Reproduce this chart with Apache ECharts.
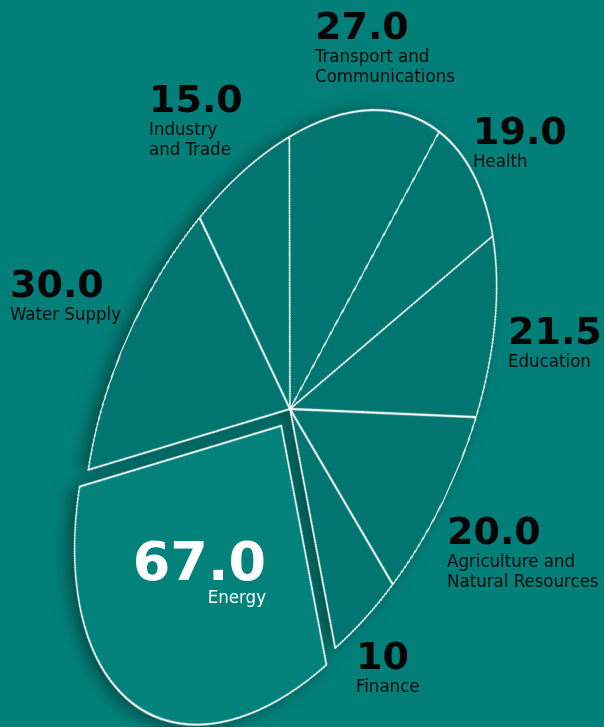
<!DOCTYPE html>
<html>
<head>
<meta charset="utf-8">
<title>Allocation by sector</title>
<script src="https://cdn.jsdelivr.net/npm/echarts@6/dist/echarts.min.js"></script>
<style>
  html, body { margin: 0; padding: 0; }
  body { width: 604px; height: 727px; background: #027f79; overflow: hidden; position: relative; }
  /* the pie is drawn as a circle, then tilted and squeezed into an ellipse */
  #pieShadow { position: absolute; left: 0; top: 0; width: 604px; height: 727px;
    filter: drop-shadow(-7px 2px 8px rgba(0, 45, 42, 0.6)); }
  #pie { position: absolute; width: 700px; height: 700px; left: -60px; top: 59px;
    transform-origin: 50% 50%; transform: rotate(23.7deg) scale(0.5604, 1); }
  #labels { position: absolute; left: 0; top: 0; width: 604px; height: 727px; }
</style>
</head>
<body>
<div id="pieShadow"><div id="pie"></div></div>
<div id="labels"></div>
<script>
// Sectors, clockwise from Energy
const sectors = [
  'Energy',
  'Water Supply',
  'Industry\nand Trade',
  'Transport and\nCommunications',
  'Health',
  'Education',
  'Agriculture and\nNatural Resources',
  'Finance'
];
const values = [67.0, 30.0, 15.0, 27.0, 19.0, 21.5, 20.0, 10];
const decimals = [1, 1, 1, 1, 1, 1, 1, 0];

// Label anchors: [x, baseline of the figure]
const labelAnchors = [
  [266, 585],
  [10, 300],
  [149, 115],
  [315, 42],
  [473, 147],
  [508, 347],
  [447, 547],
  [356, 672]
];

const SLICE = '#017670';
const HIGHLIGHT = '#03817b';

const pie = echarts.init(document.getElementById('pie'), null, { devicePixelRatio: 2 });
pie.setOption({
  animation: false,
  series: [{
    type: 'pie',
    radius: 317,
    center: ['50%', '50%'],
    startAngle: -39.3,
    clockwise: true,
    selectedMode: 'single',
    selectedOffset: 19,
    silent: true,
    label: { show: false },
    labelLine: { show: false },
    emphasis: { disabled: true },
    itemStyle: { color: SLICE, borderColor: '#ffffff', borderWidth: 2.2 },
    select: { itemStyle: { color: HIGHLIGHT, borderColor: '#ffffff', borderWidth: 2.2 } },
    data: sectors.map((name, i) => ({
      name: name,
      value: values[i],
      selected: i === 0,
      itemStyle: { color: i === 0 ? HIGHLIGHT : SLICE }
    }))
  }]
});

// Figures and sector names
const NUM_SIZE = 38, BIG_SIZE = 54, NAME_SIZE = 18.5, NAME_LH = 20.5, NAME_GAP = 21.5;
const NUM_FAMILY = '"DejaVu Sans", sans-serif';
const NAME_FAMILY = '"DejaVu Sans Condensed", "Liberation Sans Narrow", "DejaVu Sans", sans-serif';

const elements = [];
sectors.forEach((name, i) => {
  const [x, base] = labelAnchors[i];
  const big = i === 0;
  const size = big ? BIG_SIZE : NUM_SIZE;
  const color = big ? '#ffffff' : '#060606';
  const align = big ? 'right' : 'left';
  elements.push({
    type: 'text',
    x: x,
    y: base - 0.346 * size,
    silent: true,
    style: {
      text: values[i].toFixed(decimals[i]),
      font: 'bold ' + size + 'px ' + NUM_FAMILY,
      fill: color,
      align: align, textAlign: align,
      verticalAlign: 'middle', textVerticalAlign: 'middle'
    }
  });
  const nameBase = base + (big ? 20 : NAME_GAP);
  elements.push({
    type: 'text',
    x: x,
    y: nameBase - NAME_LH / 2 - 0.346 * NAME_SIZE,
    silent: true,
    style: {
      text: name,
      font: NAME_SIZE + 'px ' + NAME_FAMILY,
      lineHeight: NAME_LH,
      fill: big ? '#ffffff' : '#0a0a0a',
      align: align, textAlign: align,
      verticalAlign: 'top', textVerticalAlign: 'top'
    }
  });
});

const labels = echarts.init(document.getElementById('labels'));
labels.setOption({
  backgroundColor: 'transparent',
  animation: false,
  graphic: { elements: elements }
});
</script>
</body>
</html>
